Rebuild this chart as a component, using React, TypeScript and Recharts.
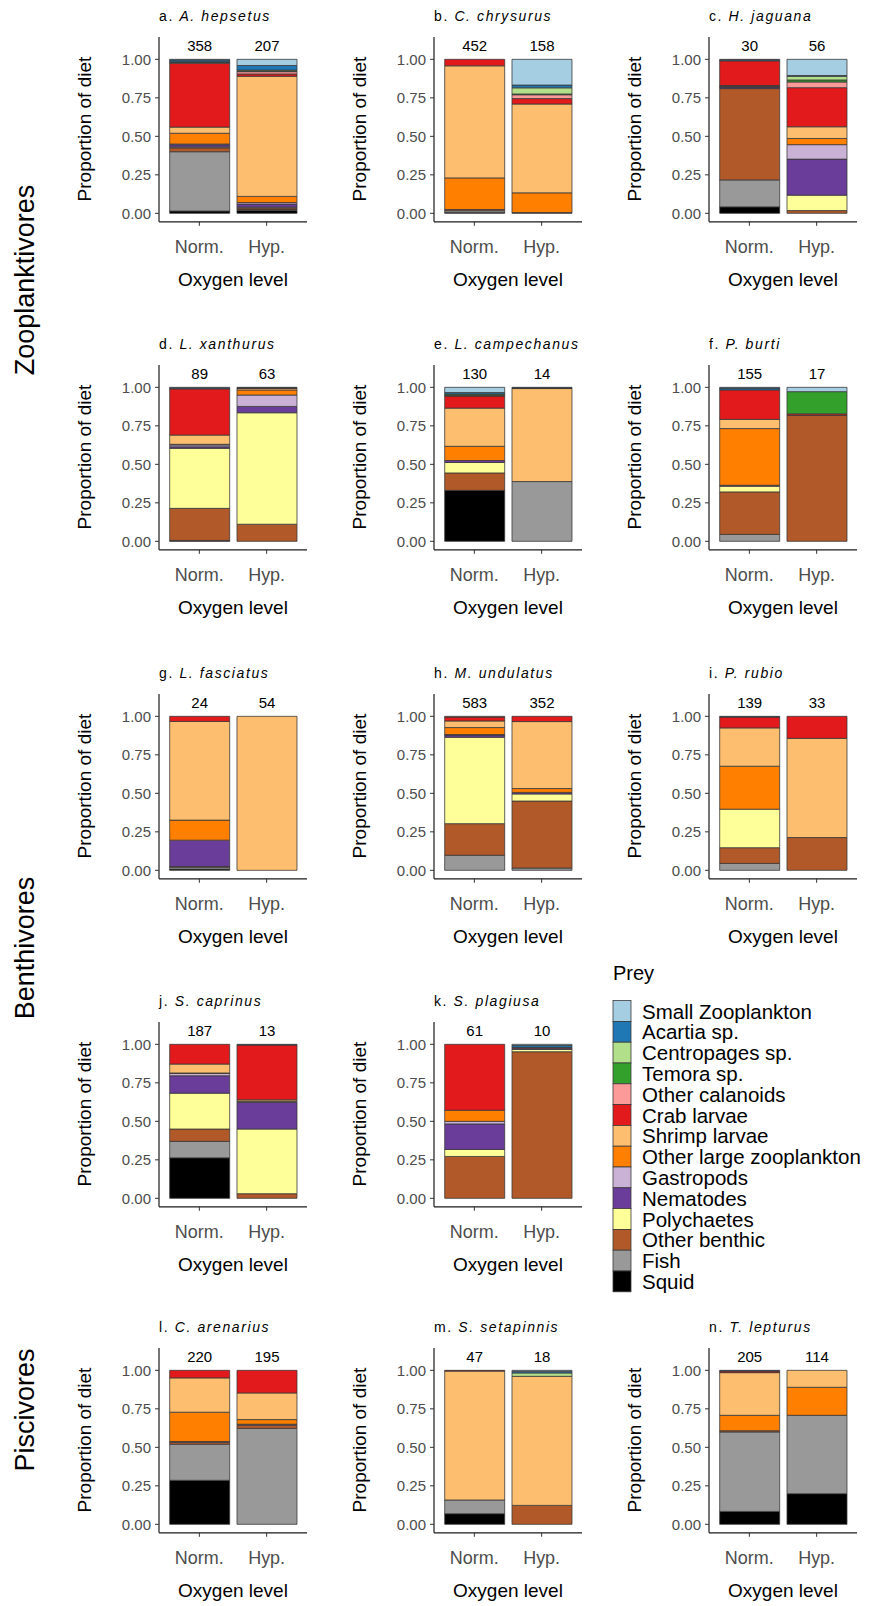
import React from "react";
import { BarChart, Bar, XAxis, YAxis, LabelList } from "recharts";

const FONT = '"Liberation Sans", Arial, Helvetica, sans-serif';

// prey categories, bottom of the stack first
const prey = [
  "Squid",
  "Fish",
  "Other benthic",
  "Polychaetes",
  "Nematodes",
  "Gastropods",
  "Other large zooplankton",
  "Shrimp larvae",
  "Crab larvae",
  "Other calanoids",
  "Temora sp.",
  "Centropages sp.",
  "Acartia sp.",
  "Small Zooplankton",
];
const preyColors = [
  "#000000",
  "#999999",
  "#B15928",
  "#FFFF99",
  "#6A3D9A",
  "#CAB2D6",
  "#FF7F00",
  "#FDBF6F",
  "#E31A1C",
  "#FB9A99",
  "#33A02C",
  "#B2DF8A",
  "#1F78B4",
  "#A6CEE3",
];
const oxygenLevels = ["Norm.", "Hyp."];
const yTicks = [0, 0.25, 0.5, 0.75, 1];
const feedingGroups = ["Zooplanktivores", "Benthivores", "Piscivores"];

// proportions in prey order (Squid ... Small Zooplankton)
const hepsetusNorm = [0.015, 0.385, 0.025, 0.005, 0.015, 0.005, 0.07, 0.04, 0.415, 0.003, 0.004, 0.002, 0.012, 0.004];
const hepsetusHyp = [0.02, 0.005, 0.01, 0.005, 0.02, 0.01, 0.04, 0.78, 0.015, 0.015, 0.005, 0.005, 0.03, 0.04];
const chrysurusNorm = [0.005, 0.012, 0.008, 0, 0, 0, 0.205, 0.728, 0.042, 0, 0, 0, 0, 0];
const chrysurusHyp = [0.005, 0, 0, 0, 0, 0, 0.128, 0.577, 0.035, 0.025, 0.005, 0.04, 0.018, 0.167];
const jaguanaNorm = [0.042, 0.175, 0.593, 0, 0.01, 0.003, 0.004, 0.003, 0.16, 0, 0, 0, 0.007, 0.003];
const jaguanaHyp = [0, 0, 0.018, 0.1, 0.234, 0.094, 0.04, 0.076, 0.254, 0.037, 0.013, 0.024, 0.005, 0.105];
const xanthurusNorm = [0.004, 0.002, 0.208, 0.39, 0.01, 0.012, 0.004, 0.06, 0.3, 0, 0, 0, 0.006, 0.004];
const xanthurusHyp = [0, 0, 0.111, 0.724, 0.041, 0.074, 0.033, 0.01, 0.004, 0, 0, 0, 0.003, 0];
const campechanusNorm = [0.331, 0, 0.113, 0.068, 0.013, 0, 0.092, 0.248, 0.078, 0.005, 0.008, 0, 0.01, 0.034];
const campechanusHyp = [0, 0.388, 0, 0, 0, 0, 0, 0.604, 0.004, 0, 0, 0, 0.004, 0];
const burtiNorm = [0, 0.045, 0.276, 0.037, 0.006, 0, 0.368, 0.06, 0.191, 0, 0, 0, 0.012, 0.005];
const burtiHyp = [0, 0, 0.818, 0, 0, 0, 0, 0, 0.01, 0, 0.144, 0, 0, 0.028];
const fasciatusNorm = [0.008, 0.012, 0.005, 0, 0.171, 0, 0.13, 0.641, 0.033, 0, 0, 0, 0, 0];
const fasciatusHyp = [0, 0, 0, 0, 0, 0, 0, 1, 0, 0, 0, 0, 0, 0];
const undulatusNorm = [0, 0.098, 0.205, 0.561, 0.014, 0.004, 0.045, 0.043, 0.025, 0.005, 0, 0, 0, 0];
const undulatusHyp = [0, 0.015, 0.435, 0.046, 0.01, 0, 0.025, 0.435, 0.034, 0, 0, 0, 0, 0];
const rubioNorm = [0, 0.045, 0.102, 0.25, 0, 0, 0.279, 0.249, 0.07, 0, 0, 0, 0.005, 0];
const rubioHyp = [0, 0, 0.213, 0, 0, 0, 0, 0.644, 0.143, 0, 0, 0, 0, 0];
const caprinusNorm = [0.263, 0.107, 0.08, 0.233, 0.113, 0.015, 0.003, 0.058, 0.128, 0, 0, 0, 0, 0];
const caprinusHyp = [0, 0, 0.03, 0.42, 0.174, 0.003, 0.004, 0.009, 0.355, 0, 0, 0, 0.005, 0];
const plagiusaNorm = [0, 0, 0.272, 0.045, 0.166, 0.017, 0.072, 0, 0.428, 0, 0, 0, 0, 0];
const plagiusaHyp = [0, 0, 0.952, 0.015, 0.008, 0, 0, 0, 0.005, 0, 0, 0, 0.012, 0.008];
const arenariusNorm = [0.286, 0.234, 0.013, 0, 0.005, 0, 0.19, 0.223, 0.049, 0, 0, 0, 0, 0];
const arenariusHyp = [0, 0.623, 0.021, 0, 0.006, 0, 0.03, 0.173, 0.147, 0, 0, 0, 0, 0];
const setapinnisNorm = [0.069, 0.089, 0, 0, 0, 0, 0, 0.837, 0.005, 0, 0, 0, 0, 0];
const setapinnisHyp = [0, 0, 0.123, 0, 0, 0, 0, 0.838, 0, 0, 0, 0.022, 0.01, 0.007];
const lepturusNorm = [0.084, 0.516, 0.008, 0, 0, 0, 0.1, 0.277, 0.01, 0, 0, 0, 0.005, 0];
const lepturusHyp = [0.199, 0.509, 0, 0, 0, 0, 0.182, 0.11, 0, 0, 0, 0, 0, 0];

const panels = [
  { tag: "a", species: "A. hepsetus", counts: [358, 207], norm: hepsetusNorm, hyp: hepsetusHyp },
  { tag: "b", species: "C. chrysurus", counts: [452, 158], norm: chrysurusNorm, hyp: chrysurusHyp },
  { tag: "c", species: "H. jaguana", counts: [30, 56], norm: jaguanaNorm, hyp: jaguanaHyp },
  { tag: "d", species: "L. xanthurus", counts: [89, 63], norm: xanthurusNorm, hyp: xanthurusHyp },
  { tag: "e", species: "L. campechanus", counts: [130, 14], norm: campechanusNorm, hyp: campechanusHyp },
  { tag: "f", species: "P. burti", counts: [155, 17], norm: burtiNorm, hyp: burtiHyp },
  { tag: "g", species: "L. fasciatus", counts: [24, 54], norm: fasciatusNorm, hyp: fasciatusHyp },
  { tag: "h", species: "M. undulatus", counts: [583, 352], norm: undulatusNorm, hyp: undulatusHyp },
  { tag: "i", species: "P. rubio", counts: [139, 33], norm: rubioNorm, hyp: rubioHyp },
  { tag: "j", species: "S. caprinus", counts: [187, 13], norm: caprinusNorm, hyp: caprinusHyp },
  { tag: "k", species: "S. plagiusa", counts: [61, 10], norm: plagiusaNorm, hyp: plagiusaHyp },
  { tag: "l", species: "C. arenarius", counts: [220, 195], norm: arenariusNorm, hyp: arenariusHyp },
  { tag: "m", species: "S. setapinnis", counts: [47, 18], norm: setapinnisNorm, hyp: setapinnisHyp },
  { tag: "n", species: "T. lepturus", counts: [205, 114], norm: lepturusNorm, hyp: lepturusHyp },
];

// layout
const U = 154; // px per 1.0 proportion
const DOMAIN: [number, number] = [-0.055, 1.145];
const PLOT_H = U * (DOMAIN[1] - DOMAIN[0]);
const PLOT_W = 148;
const Y_AXIS_W = 60;
const X_AXIS_H = 44;
const colX = [159, 434, 709];
const rowY1 = [59, 387, 716, 1044, 1370];
const groupY = [280, 948, 1410];

// index of the highest non-zero segment of a stack, the count sits on top of it
function topSegment(vals: number[]) {
  for (let k = vals.length - 1; k >= 0; k--) if (vals[k] > 0) return k;
  return 0;
}

function Panel({ p, row, col }: { p: (typeof panels)[number]; row: number; col: number }) {
  const axisX = colX[col];
  const plotTop = rowY1[row] - (DOMAIN[1] - 1) * U;
  const stacks = [p.norm, p.hyp];
  const data = oxygenLevels.map((level, i) => {
    const d: Record<string, number | string> = { level, n: p.counts[i] };
    prey.forEach((name, k) => {
      d[name] = stacks[i][k];
    });
    return d;
  });
  const tops = stacks.map(topSegment);
  return (
    <div style={{ position: "absolute", left: axisX - Y_AXIS_W, top: plotTop }}>
      <BarChart
        width={Y_AXIS_W + PLOT_W + 3}
        height={PLOT_H + X_AXIS_H}
        data={data}
        margin={{ top: 0, right: 3, bottom: 0, left: 0 }}
        barSize={60}
      >
        <XAxis
          dataKey="level"
          padding={{ left: 6.7, right: 6.7 }}
          height={X_AXIS_H}
          axisLine={{ stroke: "#1a1a1a", strokeWidth: 1.2 }}
          tickLine={{ stroke: "#333" }}
          tickSize={4}
          tickMargin={14}
          tick={{ fill: "#4d4d4d", fontSize: 18, fontFamily: FONT }}
        />
        <YAxis
          type="number"
          width={Y_AXIS_W}
          domain={DOMAIN}
          ticks={yTicks}
          allowDataOverflow
          tickFormatter={(v: number) => v.toFixed(2)}
          axisLine={{ stroke: "#1a1a1a", strokeWidth: 1.2 }}
          tickLine={{ stroke: "#333" }}
          tickSize={4}
          tickMargin={4}
          tick={{ fill: "#4d4d4d", fontSize: 15, fontFamily: FONT }}
        />
        {prey.map((name, k) => (
          <Bar
            key={name}
            dataKey={name}
            stackId="diet"
            fill={preyColors[k]}
            stroke="#3a3a3a"
            strokeWidth={0.8}
            isAnimationActive={false}
          >
            {tops.includes(k) && (
              <LabelList
                dataKey="n"
                content={(lp: any) => {
                  const { x, y, width, value } = lp;
                  const stackIdx = p.counts.indexOf(Number(value));
                  if (stackIdx < 0 || tops[stackIdx] !== k) return null;
                  return (
                    <text
                      x={Number(x) + Number(width) / 2}
                      y={Number(y) - 8.6}
                      textAnchor="middle"
                      fontSize={15}
                      fill="#000"
                      fontFamily={FONT}
                    >
                      {value}
                    </text>
                  );
                }}
              />
            )}
          </Bar>
        ))}
      </BarChart>
    </div>
  );
}

function panelPos(i: number) {
  if (i >= 11) return { row: 4, col: i - 11 };
  return { row: Math.floor(i / 3), col: i % 3 };
}

export default function App() {
  const legendTop = 1000.6;
  const legendStep = 20.8;
  const legendItems = prey.map((name, k) => ({ name, color: preyColors[k] })).reverse();
  return (
    <div
      style={{
        position: "absolute",
        left: 0,
        top: 0,
        width: 878,
        height: 1606,
        background: "#fff",
        fontFamily: FONT,
      }}
    >
      <svg width={878} height={1606} style={{ position: "absolute", left: 0, top: 0 }} fontFamily={FONT}>
        {panels.map((p, i) => {
          const { row, col } = panelPos(i);
          const axisX = colX[col];
          const y1 = rowY1[row];
          const plotMid = y1 - (DOMAIN[1] - 1) * U + PLOT_H / 2;
          const axisLineY = y1 + (1 - DOMAIN[0]) * U;
          return (
            <g key={p.tag}>
              <text x={axisX} y={y1 - 38.5} fontSize={14} letterSpacing={1.6} fill="#000">
                {p.tag}.{" "}
                <tspan fontStyle="italic">{p.species}</tspan>
              </text>
              <text
                transform={`translate(${axisX - 75}, ${plotMid}) rotate(-90)`}
                textAnchor="middle"
                dominantBaseline="central"
                fontSize={19}
                fill="#000"
              >
                Proportion of diet
              </text>
              <text
                x={axisX + PLOT_W / 2}
                y={axisLineY + 58}
                textAnchor="middle"
                dominantBaseline="central"
                fontSize={19}
                fill="#000"
              >
                Oxygen level
              </text>
            </g>
          );
        })}
        {feedingGroups.map((g, i) => (
          <text
            key={g}
            transform={`translate(25, ${groupY[i]}) rotate(-90)`}
            textAnchor="middle"
            dominantBaseline="central"
            fontSize={27}
            fill="#000"
          >
            {g}
          </text>
        ))}
        <text x={613} y={973} dominantBaseline="central" fontSize={20} fill="#000">
          Prey
        </text>
        {legendItems.map((it, i) => (
          <g key={it.name}>
            <rect
              x={613}
              y={legendTop + i * legendStep}
              width={18}
              height={legendStep}
              fill={it.color}
              stroke="#3a3a3a"
              strokeWidth={0.8}
            />
            <text
              x={642}
              y={legendTop + i * legendStep + legendStep / 2}
              dominantBaseline="central"
              fontSize={20.5}
              fill="#000"
            >
              {it.name}
            </text>
          </g>
        ))}
      </svg>
      {panels.map((p, i) => {
        const { row, col } = panelPos(i);
        return <Panel key={p.tag} p={p} row={row} col={col} />;
      })}
    </div>
  );
}
